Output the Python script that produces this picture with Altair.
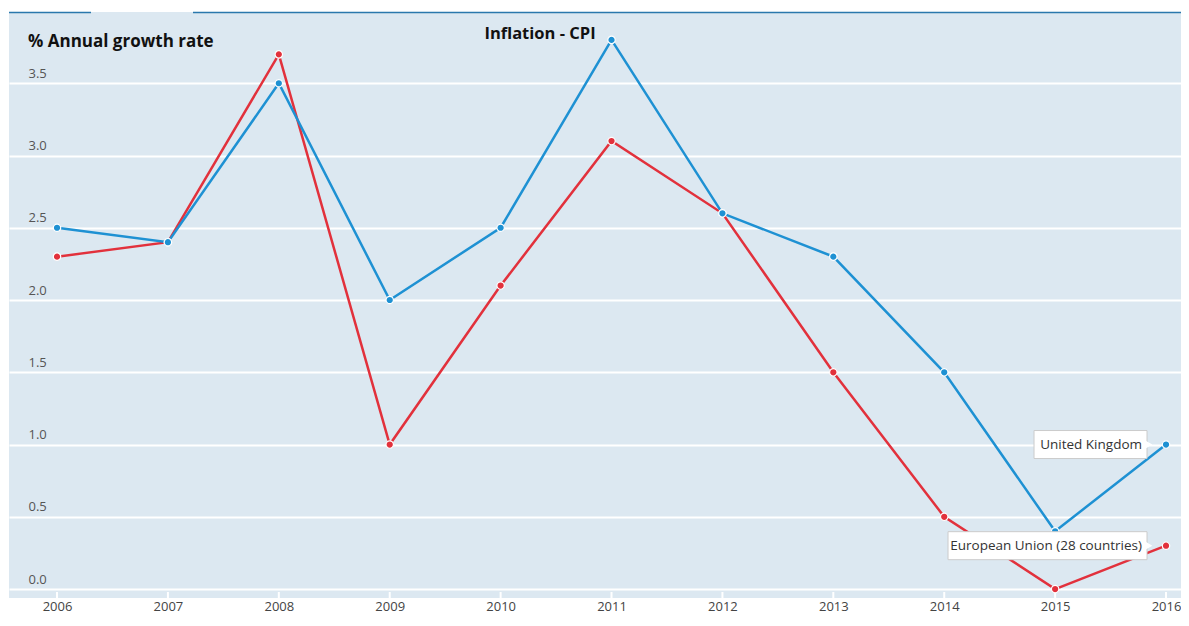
import altair as alt
import pandas as pd

years = [2006, 2007, 2008, 2009, 2010, 2011, 2012, 2013, 2014, 2015, 2016]
uk = [2.5, 2.4, 3.5, 2.0, 2.5, 3.8, 2.6, 2.3, 1.5, 0.4, 1.0]
eu = [2.3, 2.4, 3.7, 1.0, 2.1, 3.1, 2.6, 1.5, 0.5, 0.0, 0.3]
series_names = ["European Union (28 countries)", "United Kingdom"]
colors = ["#e2313c", "#1e91d3"]
y_ticks = [0.0, 0.5, 1.0, 1.5, 2.0, 2.5, 3.0, 3.5]

rows = []
for y, v in zip(years, eu):
    rows.append({"year": y, "value": v, "series": series_names[0]})
for y, v in zip(years, uk):
    rows.append({"year": y, "value": v, "series": series_names[1]})
df = pd.DataFrame(rows)

W, H = 1172, 586
FONT = "Open Sans"

xs = alt.Scale(domain=[2005.567, 2016.135], nice=False, zero=False)
ys = alt.Scale(domain=[-0.062, 3.993], nice=False, zero=False)
cs = alt.Scale(domain=series_names, range=colors)

base = alt.Chart(df)

x_enc = alt.X("year:Q", scale=xs,
              axis=alt.Axis(values=years, format="d", domain=False, ticks=False, grid=False,
                            labelFontSize=13, labelColor="#444", labelPadding=2, labelFont=FONT,
                            title=None))
y_enc = alt.Y("value:Q", scale=ys,
              axis=alt.Axis(values=y_ticks, format=".1f", domain=False, ticks=False,
                            grid=True, gridColor="white", gridWidth=2,
                            labelAlign="left", labelPadding=-19, labelBaseline="bottom",
                            labelOffset=-3, labelFontSize=13, labelColor="#555",
                            labelFont=FONT, title=None))

lines = base.mark_line(strokeWidth=2.5).encode(
    x=x_enc, y=y_enc,
    color=alt.Color("series:N", scale=cs, legend=None),
    detail="series:N",
)
points = base.mark_point(filled=True, size=55, opacity=1, stroke="white", strokeWidth=1.2).encode(
    x=alt.X("year:Q", scale=xs), y=alt.Y("value:Q", scale=ys),
    fill=alt.Color("series:N", scale=cs, legend=None),
)

tick_df = pd.DataFrame({"year": years})
ticks = alt.Chart(tick_df).mark_rule(color="white", strokeWidth=2).encode(
    x=alt.X("year:Q", scale=xs), y=alt.value(H - 6), y2=alt.value(H)
)

top_lines = alt.Chart(pd.DataFrame({"a": [0]})).mark_rule(color="#2a78ad", strokeWidth=1.5).encode(
    x=alt.value(0), x2=alt.value(82), y=alt.value(0.5)
)
top_lines2 = alt.Chart(pd.DataFrame({"a": [0]})).mark_rule(color="#2a78ad", strokeWidth=1.5).encode(
    x=alt.value(184), x2=alt.value(W), y=alt.value(0.5)
)

ann_uk = pd.DataFrame({"year": [years[-1]], "value": [uk[-1]], "label": [series_names[1]]})
ann_eu = pd.DataFrame({"year": [years[-1]], "value": [eu[-1]], "label": [series_names[0]]})

def annotation(d, left):
    box = alt.Chart(d).mark_rect(fill="white", stroke="#cccccc", strokeWidth=1,
                                 xOffset=left, x2Offset=-19, yOffset=-14, y2Offset=14).encode(
        x=alt.X("year:Q", scale=xs), x2="year:Q",
        y=alt.Y("value:Q", scale=ys), y2="value:Q")
    arrow = alt.Chart(d).mark_point(shape="triangle-right", filled=True, fill="white",
                                    opacity=1, size=60, xOffset=-17).encode(
        x=alt.X("year:Q", scale=xs), y=alt.Y("value:Q", scale=ys))
    txt = alt.Chart(d).mark_text(align="right", baseline="middle", dx=-24, fontSize=13.5,
                                 color="#333", font=FONT).encode(
        x=alt.X("year:Q", scale=xs), y=alt.Y("value:Q", scale=ys), text="label:N")
    return box + arrow + txt

title_left = alt.Chart(pd.DataFrame({"t": ["% Annual growth rate"]})).mark_text(
    align="left", baseline="middle", fontSize=17, fontWeight="bold", color="#111", font=FONT
).encode(x=alt.value(19), y=alt.value(30), text="t:N")
title_mid = alt.Chart(pd.DataFrame({"t": ["Inflation - CPI"]})).mark_text(
    align="center", baseline="middle", fontSize=16.5, fontWeight="bold", color="#111", font=FONT
).encode(x=alt.value(531), y=alt.value(22), text="t:N")

chart = alt.layer(
    lines, ticks, top_lines, top_lines2, points,
    annotation(ann_uk, -132), annotation(ann_eu, -218),
    title_left, title_mid,
).properties(
    width=W, height=H,
    padding={"left": 1, "top": 4, "right": 0, "bottom": 19},
    autosize=alt.AutoSizeParams(type="none"),
    background="white",
).configure_view(fill="#dce8f1", stroke=None)

chart.save("out.html", embed_options={"renderer": "svg", "actions": False})
